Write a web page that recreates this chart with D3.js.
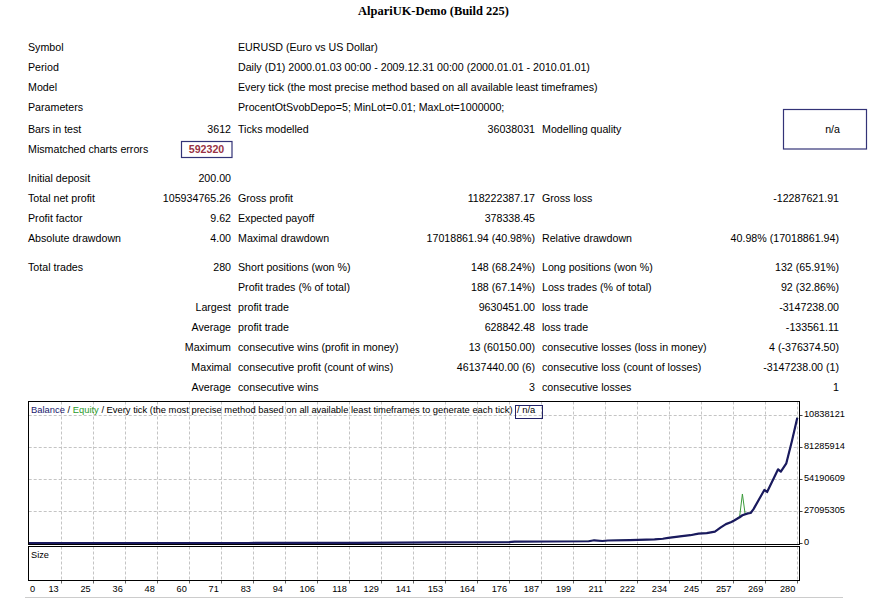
<!DOCTYPE html>
<html><head><meta charset="utf-8">
<script src="https://cdn.jsdelivr.net/npm/d3@7"></script>
<style>html,body{margin:0;padding:0;background:#fff;}svg{display:block;}</style>
</head><body>
<script>
// ---------------- DATA ----------------
const title = "AlpariUK-Demo (Build 225)";
// report rows: [label, value, label2, value2, label3, value3]
const headerRows = [
  ["Symbol", "EURUSD (Euro vs US Dollar)"],
  ["Period", "Daily (D1) 2000.01.03 00:00 - 2009.12.31 00:00 (2000.01.01 - 2010.01.01)"],
  ["Model", "Every tick (the most precise method based on all available least timeframes)"],
  ["Parameters", "ProcentOtSvobDepo=5; MinLot=0.01; MaxLot=1000000;"]
];
const barsRow = ["Bars in test", "3612", "Ticks modelled", "36038031", "Modelling quality", "n/a"];
const mismatchRow = ["Mismatched charts errors", "592320"];
const depositRow = ["Initial deposit", "200.00"];
const profitRows = [
  ["Total net profit", "105934765.26", "Gross profit", "118222387.17", "Gross loss", "-12287621.91"],
  ["Profit factor", "9.62", "Expected payoff", "378338.45", "", ""],
  ["Absolute drawdown", "4.00", "Maximal drawdown", "17018861.94 (40.98%)", "Relative drawdown", "40.98% (17018861.94)"]
];
const tradeRows = [
  ["Total trades", "280", "Short positions (won %)", "148 (68.24%)", "Long positions (won %)", "132 (65.91%)"],
  ["", "", "Profit trades (% of total)", "188 (67.14%)", "Loss trades (% of total)", "92 (32.86%)"],
  ["", "Largest", "profit trade", "9630451.00", "loss trade", "-3147238.00"],
  ["", "Average", "profit trade", "628842.48", "loss trade", "-133561.11"],
  ["", "Maximum", "consecutive wins (profit in money)", "13 (60150.00)", "consecutive losses (loss in money)", "4 (-376374.50)"],
  ["", "Maximal", "consecutive profit (count of wins)", "46137440.00 (6)", "consecutive loss (count of losses)", "-3147238.00 (1)"],
  ["", "Average", "consecutive wins", "3", "consecutive losses", "1"]
];

const xTickLabels = ["0","13","25","36","48","60","71","83","94","106","118","129","141","153","164","176","187","199","211","222","234","245","257","269","280"];
const yTickValues = [0, 27095305, 54190609, 81285914, 108381218];
const yTickLabels = ["0", "27095305", "54190609", "81285914", "10838121"];

const balanceTrades = [0, 40, 80, 120, 150, 175, 177, 204, 206, 209, 211, 219, 228, 231, 233, 238, 241, 244, 247, 250, 252, 254, 256, 257, 259, 260, 262, 263, 264, 268, 269, 273, 274, 276, 278, 280];
const balanceValues = [200, 2500, 20000, 120000, 450000, 700000, 1100000, 1500000, 2300000, 1700000, 2100000, 2500000, 3000000, 3600000, 4400000, 5800000, 6600000, 8000000, 8300000, 9600000, 13000000, 16000000, 17800000, 19000000, 21800000, 23500000, 25100000, 25400000, 28500000, 44900000, 43200000, 62400000, 60400000, 67500000, 86000000, 106134965];

const equityTrades = [0, 40, 80, 120, 150, 175, 177, 204, 206, 209, 211, 219, 228, 231, 233, 238, 241, 244, 247, 250, 252, 254, 256, 257, 259, 260, 261, 262, 263, 264, 268, 269, 273, 274, 276, 278, 280];
const equityValues = [200, 2500, 20000, 120000, 450000, 700000, 1100000, 1500000, 2300000, 1700000, 2100000, 2500000, 3000000, 3600000, 4400000, 5800000, 6600000, 8000000, 8300000, 9600000, 13000000, 16000000, 17800000, 19000000, 22500000, 41500000, 24500000, 25100000, 25400000, 28500000, 44900000, 43200000, 62400000, 60400000, 67500000, 86000000, 106134965];

// ---------------- LAYOUT ----------------
const W = 879, H = 599;
const svg = d3.select("body").append("svg").attr("width", W).attr("height", H);
svg.append("rect").attr("width", W).attr("height", H).attr("fill", "#fff");

const SANS = "'Liberation Sans', Arial, sans-serif";
const SERIF = "'Liberation Serif', 'Times New Roman', serif";

function fitSize(text, family, weight, target) {
  const t = svg.append("text").attr("font-family", family).attr("font-weight", weight)
    .attr("font-size", 100).text(text);
  const w = t.node().getComputedTextLength();
  t.remove();
  return 100 * target / w;
}
const tableSize = fitSize("Mismatched charts errors", SANS, "normal", 120.3);
const titleSize = fitSize(title, SERIF, "bold", 151);

svg.append("text").attr("x", 433.5).attr("y", 11).attr("dy", "0.35em")
  .attr("text-anchor", "middle").attr("font-family", SERIF).attr("font-weight", "bold")
  .attr("font-size", titleSize).attr("fill", "#000").text(title);

const colX = [28, 231, 238, 535, 542, 839];
const colAnchor = ["start", "end", "start", "end", "start", "end"];

function putRow(cells, y) {
  cells.forEach((c, i) => {
    if (!c) return;
    svg.append("text").attr("x", colX[i]).attr("y", y).attr("dy", "0.35em")
      .attr("text-anchor", colAnchor[i]).attr("font-family", SANS)
      .attr("font-size", tableSize).attr("fill", "#000").text(c);
  });
}
const headerY = [47, 67, 87, 107];
headerRows.forEach((r, i) => putRow([r[0], "", r[1]], headerY[i]));

putRow(barsRow.slice(0, 5), 129);
// modelling quality box
svg.append("rect").attr("x", 783.5).attr("y", 109.5).attr("width", 83).attr("height", 39.5)
  .attr("fill", "none").attr("stroke", "#333377").attr("stroke-width", 1.2);
svg.append("text").attr("x", 840).attr("y", 129.5).attr("dy", "0.35em").attr("text-anchor", "end")
  .attr("font-family", SANS).attr("font-size", tableSize).attr("fill", "#000").text(barsRow[5]);

putRow([mismatchRow[0]], 149);
svg.append("rect").attr("x", 181.5).attr("y", 141.5).attr("width", 50.5).attr("height", 16)
  .attr("fill", "none").attr("stroke", "#333377").attr("stroke-width", 1.2);
svg.append("text").attr("x", 206.5).attr("y", 149.5).attr("dy", "0.35em").attr("text-anchor", "middle")
  .attr("font-family", SANS).attr("font-weight", "bold").attr("font-size", tableSize)
  .attr("fill", "#993344").text(mismatchRow[1]);

putRow(depositRow, 178);
const profitY = [198, 218, 238];
profitRows.forEach((r, i) => putRow(r, profitY[i]));
const tradeY = [267, 287, 307, 327, 347, 367, 387];
tradeRows.forEach((r, i) => putRow(r, tradeY[i]));

// ---------------- CHART ----------------
const L = 28.7, R = 797.3, BORDER_R = 799.5;
const mainTop = 401.5, mainBot = 544.5, sizeTop = 546.5, sizeBot = 580.5;
const x = d3.scaleLinear().domain([0, 280]).range([L, R]);
const xTick = d3.scalePoint().domain(xTickLabels).range([L, R]);
const y = d3.scaleLinear().domain([0, 108381218]).range([543, 415]);

const gridColor = "#c4c4c4";
const g = svg.append("g");
// vertical gridlines
xTickLabels.slice(1).forEach(lbl => {
  const gx = Math.round(xTick(lbl)) + 0.5;
  g.append("line").attr("x1", gx).attr("x2", gx).attr("y1", mainTop).attr("y2", mainBot)
    .attr("stroke", gridColor).attr("stroke-dasharray", "3,2");
  g.append("line").attr("x1", gx).attr("x2", gx).attr("y1", sizeTop).attr("y2", sizeBot)
    .attr("stroke", gridColor).attr("stroke-dasharray", "3,2");
  g.append("line").attr("x1", gx).attr("x2", gx).attr("y1", sizeBot).attr("y2", sizeBot + 3)
    .attr("stroke", "#666");
});
// horizontal gridlines
yTickValues.slice(1).forEach(v => {
  const gy = Math.round(y(v)) + 0.5;
  g.append("line").attr("x1", L).attr("x2", BORDER_R).attr("y1", gy).attr("y2", gy)
    .attr("stroke", gridColor).attr("stroke-dasharray", "3,2");
});
yTickValues.forEach(v => {
  const gy = Math.round(y(v)) + 0.5;
  g.append("line").attr("x1", BORDER_R).attr("x2", BORDER_R + 3).attr("y1", gy).attr("y2", gy)
    .attr("stroke", "#444");
});

// y labels
const axisSize = fitSize("10838121", SANS, "normal", 41);
yTickValues.forEach((v, i) => {
  svg.append("text").attr("x", 804).attr("y", y(v) - 1.5).attr("dy", "0.35em")
    .attr("font-family", SANS).attr("font-size", axisSize).attr("fill", "#000").text(yTickLabels[i]);
});
// x labels
xTickLabels.forEach((lbl, i) => {
  const t = svg.append("text").attr("y", 588.5).attr("dy", "0.35em")
    .attr("font-family", SANS).attr("font-size", axisSize).attr("fill", "#000").text(lbl);
  if (i === 0) t.attr("x", 30).attr("text-anchor", "start");
  else t.attr("x", xTick(lbl) - 2).attr("text-anchor", "end");
});

// clip
svg.append("clipPath").attr("id", "clipMain").append("rect")
  .attr("x", L).attr("y", mainTop).attr("width", BORDER_R - L).attr("height", mainBot - mainTop - 0.5);

const line = d3.line().x(d => x(d[0])).y(d => y(d[1]));
const eqData = equityTrades.map((t, i) => [t, equityValues[i]]);
const balData = balanceTrades.map((t, i) => [t, balanceValues[i]]);
svg.append("path").attr("d", line(eqData)).attr("fill", "none").attr("stroke", "#3a9a3a")
  .attr("stroke-width", 1).attr("clip-path", "url(#clipMain)");
svg.append("path").attr("d", line(balData)).attr("fill", "none").attr("stroke", "#1a1a5e")
  .attr("stroke-width", 2.2).attr("stroke-linejoin", "round").attr("clip-path", "url(#clipMain)");

// borders
svg.append("rect").attr("x", 28.5).attr("y", mainTop).attr("width", BORDER_R - 28.5).attr("height", mainBot - mainTop)
  .attr("fill", "none").attr("stroke", "#000");
svg.append("rect").attr("x", 28.5).attr("y", sizeTop).attr("width", BORDER_R - 28.5).attr("height", sizeBot - sizeTop)
  .attr("fill", "none").attr("stroke", "#000");

// chart header
const headerText = "Balance / Equity / Every tick (the most precise method based on all available least timeframes to generate each tick)";
const hdrSize = fitSize(headerText, SANS, "normal", 482);
const ht = svg.append("text").attr("x", 31).attr("y", 410).attr("dy", "0.35em")
  .attr("font-family", SANS).attr("font-size", hdrSize).attr("fill", "#000");
ht.append("tspan").attr("fill", "#1a1a6e").text("Balance");
ht.append("tspan").text(" / ");
ht.append("tspan").attr("fill", "#2a9a2a").text("Equity");
ht.append("tspan").text(" / Every tick (the most precise method based on all available least timeframes to generate each tick)");
svg.append("rect").attr("x", 515.5).attr("y", 405.5).attr("width", 27).attr("height", 13)
  .attr("fill", "none").attr("stroke", "#222266");
svg.append("text").attr("x", 517).attr("y", 410).attr("dy", "0.35em")
  .attr("font-family", SANS).attr("font-size", hdrSize).attr("fill", "#000").text("/ n/a");

svg.append("text").attr("x", 31).attr("y", 554.5).attr("dy", "0.35em")
  .attr("font-family", SANS).attr("font-size", axisSize).attr("fill", "#000").text("Size");

svg.append("line").attr("x1", 25).attr("x2", 843).attr("y1", 597.5).attr("y2", 597.5)
  .attr("stroke", "#cccccc");
</script>
</body></html>
